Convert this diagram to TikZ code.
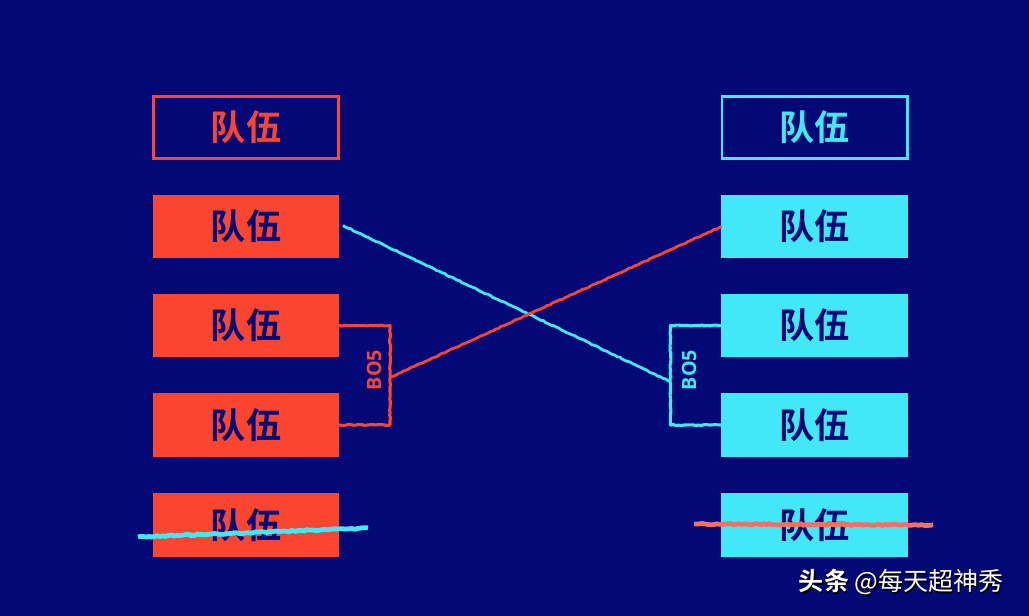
\documentclass[tikz,border=0pt]{standalone}
\usepackage{fontspec}
\newfontfamily\cjk{Noto Sans CJK SC}
\newfontfamily\cjkbold{Noto Sans CJK SC Bold}
\setsansfont{Open Sans}
\usetikzlibrary{decorations.pathmorphing}

\begin{document}
\begin{tikzpicture}[
  x=0.025cm, y=-0.025cm,
  team/.style={
    minimum width=4.65cm, minimum height=1.575cm,
    outer sep=0pt, font=\cjkbold\fontsize{25pt}{25pt}\selectfont, text=cBg
  },
  head/.style={
    draw, line width=2.1pt, minimum width=4.625cm, minimum height=1.55cm,
    outer sep=0pt, font=\cjkbold\fontsize{25pt}{25pt}\selectfont
  },
  rough/.style={
    line width=2.2pt, line join=round,
    decorate, decoration={random steps, segment length=2pt, amplitude=0.35pt}
  },
  strike/.style={
    line width=3.4pt,
    decorate, decoration={random steps, segment length=2pt, amplitude=0.5pt}
  },
  bo/.style={font=\sffamily\fontsize{14pt}{14pt}\selectfont, rotate=90}
]

  % Colors based on the image
  \definecolor{cBg}{RGB}{2,8,118}      % Navy background
  \definecolor{cRed}{RGB}{250,70,48}   % Red side
  \definecolor{cCyan}{RGB}{66,232,248} % Cyan side
  \definecolor{cStrR}{RGB}{246,112,96} % Red strike

  % Background
  \fill[cBg] (0,0) rectangle (1029,616);
  \useasboundingbox (0,0) rectangle (1029,616);

  % --- LEFT COLUMN ---
  \node[head, draw=cRed, text=cRed] (lhead) at (246,127.5) {队伍};
  \node[team, fill=cRed] (l1) at (246,226.5) {队伍};
  \node[team, fill=cRed] (l2) at (246,325.5) {队伍};
  \node[team, fill=cRed] (l3) at (246,425) {队伍};
  \node[team, fill=cRed] (l4) at (246,525) {队伍};

  % --- RIGHT COLUMN ---
  \node[head, draw=cCyan, text=cCyan] (rhead) at (814.5,127.5) {队伍};
  \node[team, fill=cCyan] (r1) at (814.5,226.5) {队伍};
  \node[team, fill=cCyan] (r2) at (814.5,325.5) {队伍};
  \node[team, fill=cCyan] (r3) at (814.5,425) {队伍};
  \node[team, fill=cCyan] (r4) at (814.5,525) {队伍};

  % --- BO5 BRACKETS ---
  \coordinate (lmid) at (391,377);
  \coordinate (rmid) at (671,382);

  \draw[rough, cRed] (l2.east) -- ++(51,0) |- (l3.east);
  \node[bo, text=cRed] (lbo) at (374,370) {\textbf{BO5}};

  \draw[rough, cCyan] (r2.west) -- ++(-51,0) |- (r3.west);
  \node[bo, text=cCyan] (rbo) at (689,370) {\textbf{BO5}};

  % --- CROSSING LINES ---
  \draw[rough, cCyan, line width=2pt] (l1.east) ++(4,-1) -- (rmid);
  \draw[rough, cRed, line width=2pt] (lmid) -- (r1.west);

  % --- ELIMINATED ---
  \coordinate (ls1) at (138,537);
  \coordinate (ls2) at (368,528);
  \coordinate (rs1) at (694,524);
  \coordinate (rs2) at (933,525);
  \draw[strike, cCyan] (ls1) -- (ls2);
  \draw[strike, cStrR] (rs1) -- (rs2);

  % Watermark
  \node[anchor=west, text=black, font=\cjk\fontsize{17.8pt}{17.8pt}\selectfont] at (795.5,583.5)
    {{\cjkbold 头条} @每天超神秀};
  \node[anchor=west, text=white, font=\cjk\fontsize{17.8pt}{17.8pt}\selectfont] (mark) at (794,582)
    {{\cjkbold 头条} @每天超神秀};

\end{tikzpicture}
\end{document}
